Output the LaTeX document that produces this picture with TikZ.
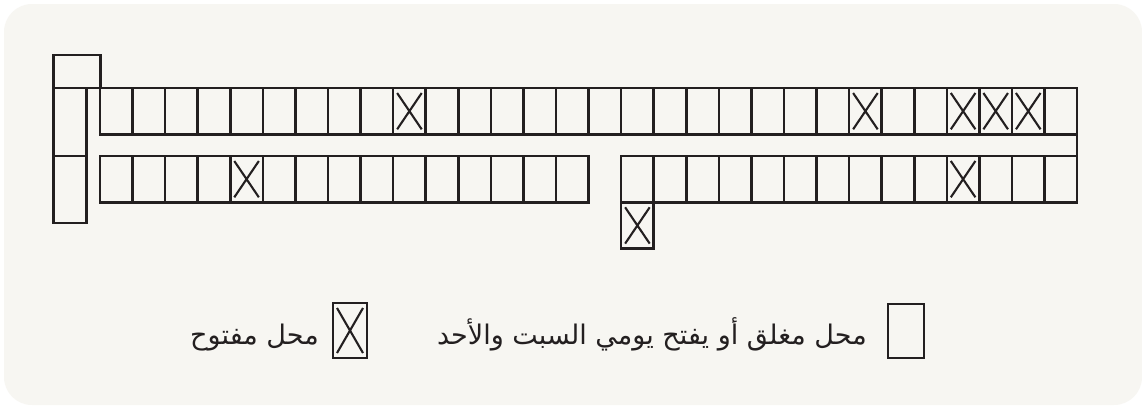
\documentclass[tikz,border=0pt]{standalone}
\usepackage{fontspec}
\newfontfamily\arabicfont[Script=Arabic]{DejaVu Sans}
\TeXXeTstate=1
\definecolor{bgc}{HTML}{F7F6F2}
\definecolor{ink}{HTML}{231F20}
\begin{document}
\begin{tikzpicture}[x=1pt,y=-1pt,
  cell/.style={draw=ink, line width=2.5pt, minimum width=32.57pt, minimum height=46.3pt, inner sep=0pt, outer sep=0pt, anchor=north west},
  xmark/.style={path picture={\draw[ink, line width=2.1pt]
      ([shift={(4pt,-5pt)}]path picture bounding box.north west) -- ([shift={(-4pt,5pt)}]path picture bounding box.south east)
      ([shift={(-4pt,-5pt)}]path picture bounding box.north east) -- ([shift={(4pt,5pt)}]path picture bounding box.south west);}},
  legtext/.style={anchor=base east, inner sep=0pt, text=ink, font=\arabicfont\fontsize{27}{31}\selectfont}
]
\useasboundingbox (0,0) rectangle (1142,405);
\fill[white] (0,0) rectangle (1142,405);
\fill[bgc, rounded corners=28pt] (4,4) rectangle (1142,405);

% top row
\foreach \i in {0,...,29} {
  \node[cell] (t\i) at ({100+32.57*\i},88) {};
}
% bottom row, left part
\foreach \i in {0,...,14} {
  \node[cell] (b\i) at ({100+32.57*\i},156) {};
}
% bottom row, right part
\foreach \i in {16,...,29} {
  \node[cell] (b\i) at ({100+32.57*\i},156) {};
}
% extra cell below
\node[cell, xmark] (e16) at ({100+32.57*16},202.3) {};
% X cells
\foreach \i in {9,23,26,27,28} {
  \node[cell, xmark] at (t\i.north west) {};
}
\foreach \i in {4,26} {
  \node[cell, xmark] at (b\i.north west) {};
}
% left column
\node[cell, minimum width=33.2pt, minimum height=68pt] (l1) at (53.5,88) {};
\node[cell, minimum width=33.2pt, minimum height=67pt] (l2) at (53.5,156) {};
\node[cell, minimum width=47.2pt, minimum height=33pt] (l0) at (53.5,55) {};
% right closing line
\draw[ink, line width=2.5pt] (t29.north east) -- (b29.south east);

% legend
\node[cell, minimum width=36pt, minimum height=54pt] (k1) at (888,304) {};
\node[legtext] (k1t) at (867,344) {\beginR محل مغلق أو يفتح يومي السبت والأحد\endR};
\node[cell, xmark, minimum width=34pt, minimum height=55pt] (k2) at (333,303) {};
\node[legtext] (k2t) at (319,344) {\beginR محل مفتوح\endR};
\end{tikzpicture}
\end{document}
